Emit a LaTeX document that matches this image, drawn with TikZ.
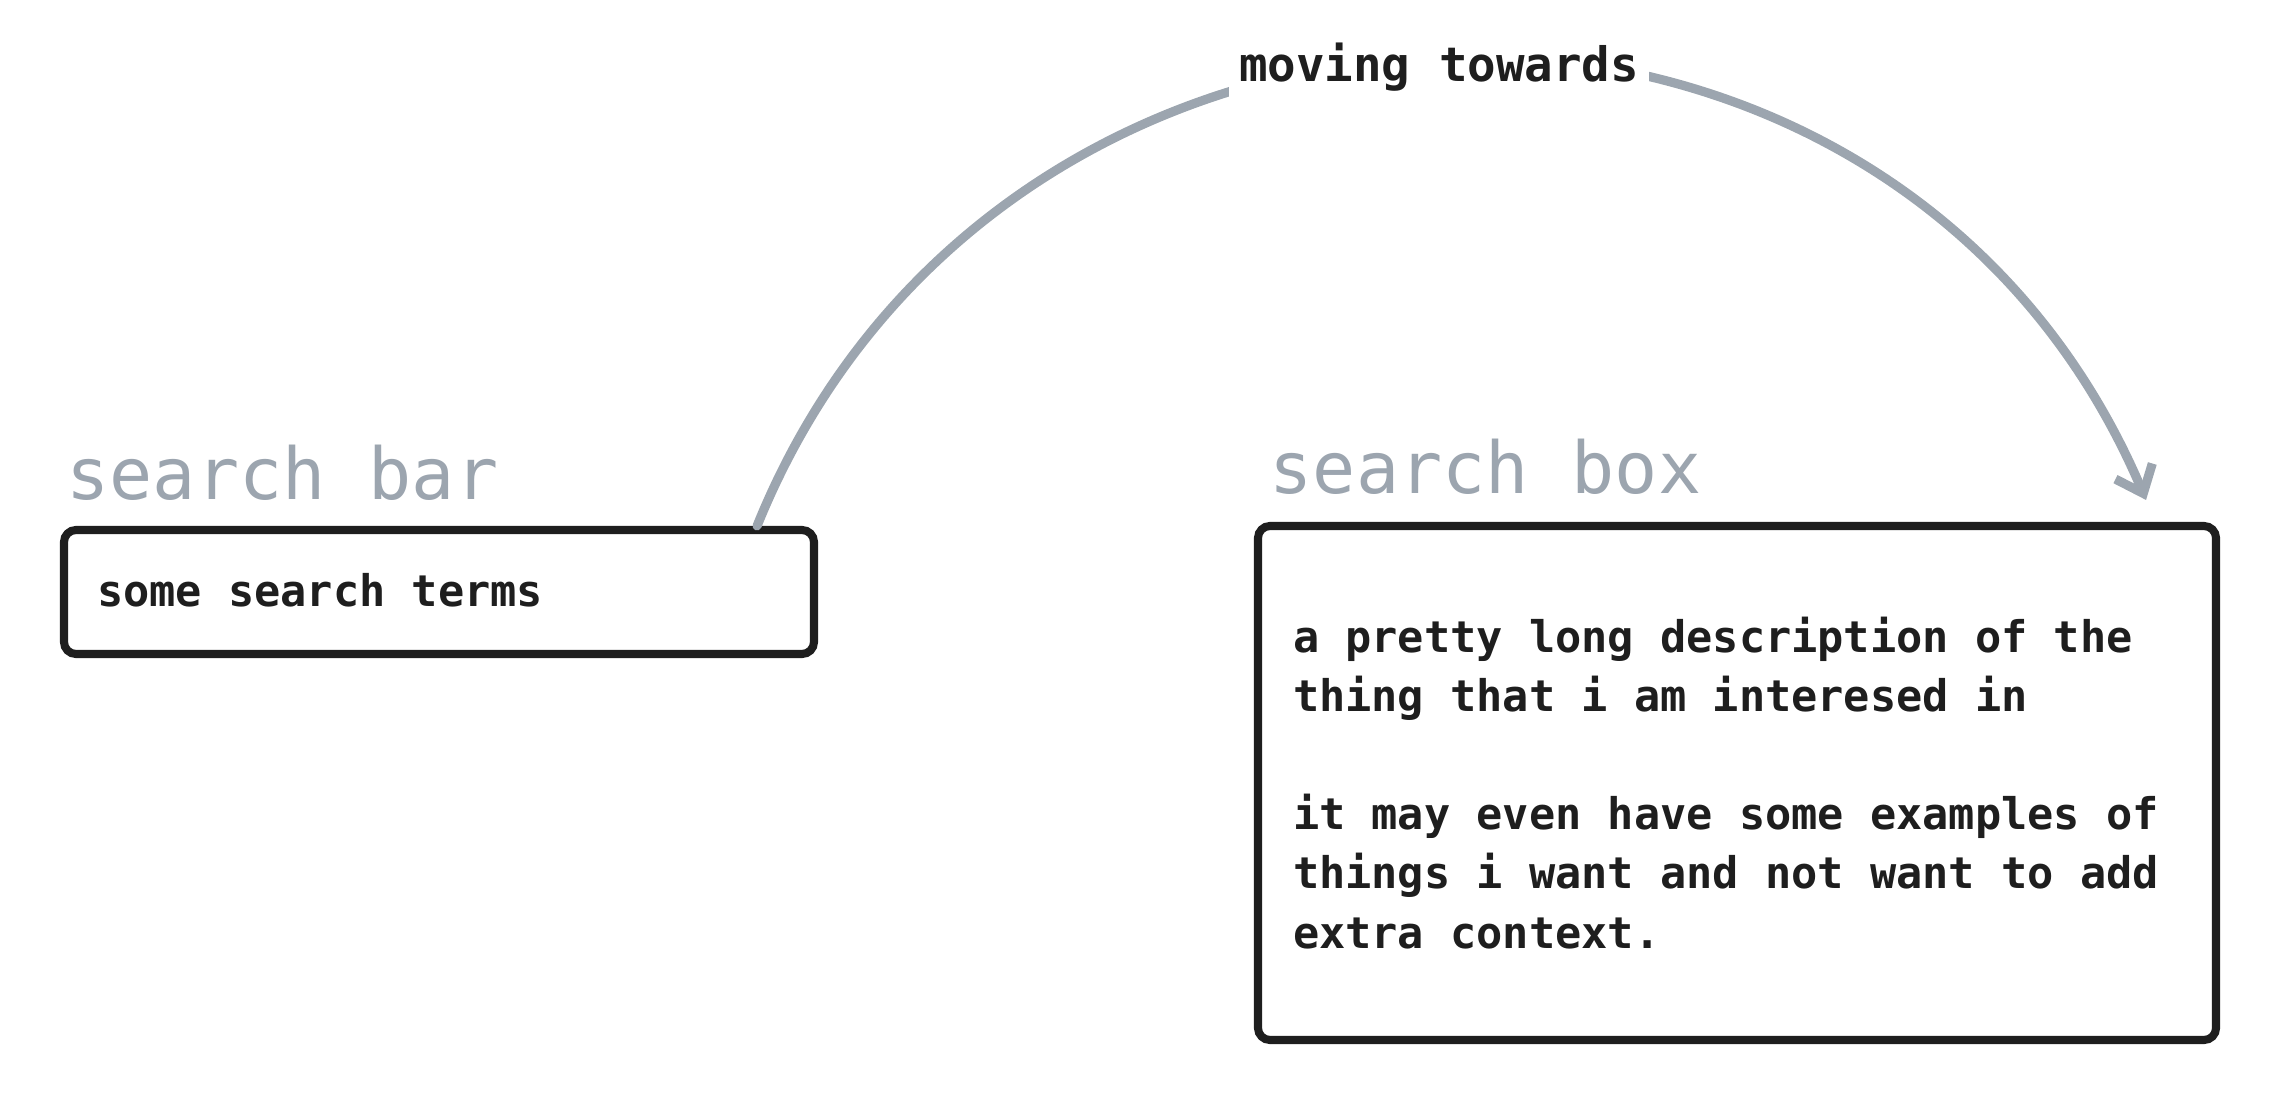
\documentclass[tikz,border=0pt]{standalone}
\usepackage{fontspec}
\newfontfamily\sketchmono{DejaVu Sans Mono}
\usetikzlibrary{arrows.meta}
\definecolor{ink}{HTML}{1E1E1E}
\definecolor{slate}{HTML}{9CA5AF}

\begin{document}
\begin{tikzpicture}[
        field/.style={draw=ink, line width=2.3pt, rounded corners=0.12cm, text=ink, font=\sketchmono\bfseries\fontsize{12.4}{16.8}\selectfont, align=left, execute at begin node={\spaceskip=0.602em\relax}},
        caption/.style={text=slate, font=\sketchmono\fontsize{20.4}{24}\selectfont, anchor=base west, inner sep=0pt},
        flow/.style={draw=slate, line width=2.6pt, line cap=round, -{Straight Barb[length=2.4mm,width=4mm]}}
    ]
        \useasboundingbox (0,0) rectangle (22.78,-11.03);

        \node[field, minimum width=7.5cm, minimum height=1.24cm, text width=6.84cm, inner xsep=0.33cm, text height=0.28cm, text depth=0cm] (bar) at (4.39,-5.92) {some search terms};
        \node[field, minimum width=9.58cm, minimum height=5.14cm, text width=8.88cm, inner xsep=0.35cm] (box) at (17.37,-7.83) {a pretty long description of the\\ thing that i am interesed in\\[16.8pt] it may even have some examples of\\ things i want and not want to add\\ extra context.};

        \node[caption] (barlabel) at ([xshift=0.06cm, yshift=0.26cm]bar.north west) {search bar};
        \node[caption] (boxlabel) at ([xshift=0.15cm, yshift=0.28cm]box.north west) {search box};

        \coordinate (start) at ([xshift=-0.61cm]bar.north east);
        \coordinate (tip) at ([xshift=-0.74cm, yshift=0.22cm]box.north east);
        \draw[flow] (start) to[out=68, in=113, looseness=1.21] node[pos=0.495, yshift=-0.1cm, fill=white, text=ink, inner xsep=0.1cm, inner ysep=0.15cm, font=\sketchmono\bfseries\fontsize{13.5}{16}\selectfont] (move) {moving towards} (tip);
    \end{tikzpicture}
\end{document}
